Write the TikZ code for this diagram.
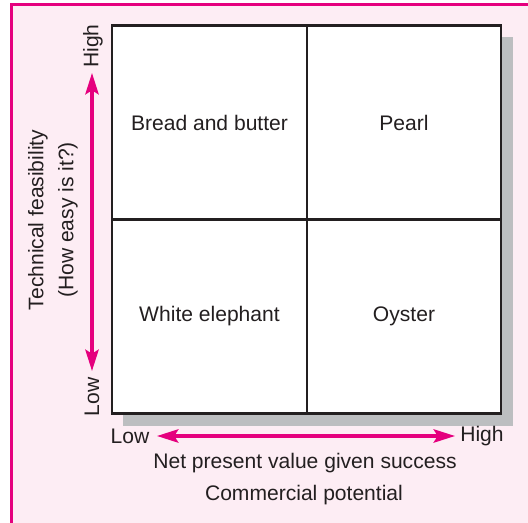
\documentclass[tikz,border=0pt]{standalone}
\usepackage{fontspec}
\setmainfont{Liberation Sans}
\usetikzlibrary{arrows.meta}
\definecolor{magentaline}{HTML}{E5007E}
\definecolor{panelpink}{HTML}{FDEDF4}
\definecolor{shadowgrey}{HTML}{BCBEC0}
\definecolor{inkgrey}{HTML}{231F20}
\begin{document}
\begin{tikzpicture}[x=0.75pt,y=-0.75pt,
	txt/.style={text=inkgrey, font=\fontsize{15.8}{18}\selectfont, inner sep=0pt},
	cell/.style={txt, draw=inkgrey, line width=1.6pt, fill=white, minimum width=145.9pt, minimum height=145.5pt},
	axis/.style={draw=magentaline, line width=2.5pt, {Stealth[length=16pt,width=10pt,inset=3pt]}-{Stealth[length=16pt,width=10pt,inset=3pt]}}]
	\useasboundingbox (0,0) rectangle (528,523);
	\clip (0,0) rectangle (528,523);
	\draw[magentaline, line width=2.2pt, fill=panelpink] (11.5,4.5) rectangle (560,560);
	\fill[shadowgrey] (123,37) rectangle (512.5,426.5);
	\node (BB) at (209.5,122.5)	[cell]	{Bread and butter};
	\node (PE) at (404,122.5)	[cell]	{Pearl};
	\node (WE) at (209.5,316.5)	[cell]	{White elephant};
	\node (OY) at (404,316.5)	[cell]	{Oyster};
	\draw[inkgrey, line width=1.8pt] (112,26) rectangle (501,414);
	% vertical axis
	\node (VH) at (93,46)	[txt, rotate=90]	{High};
	\node (VL) at (92,397)	[txt, rotate=90]	{Low};
	\coordinate (VT) at (92,73);
	\coordinate (VB) at (92,371);
	\draw[axis] (VB) -- (VT);
	\node (VT1) at (53,220)	[txt, rotate=90, align=center, font=\fontsize{15.8}{22.5}\selectfont]	{Technical feasibility\\(How easy is it?)};
	% horizontal axis
	\node (HL) at (130,436)	[txt]	{Low};
	\node (HH) at (482,436)	[txt]	{High};
	\coordinate (HA) at (157,436);
	\coordinate (HB) at (455,436);
	\draw[axis] (HA) -- (HB);
	\node (HT1) at (305,463)	[txt]	{Net present value given success};
	\node (HT2) at (304,495)	[txt]	{Commercial potential};
\end{tikzpicture}
\end{document}
